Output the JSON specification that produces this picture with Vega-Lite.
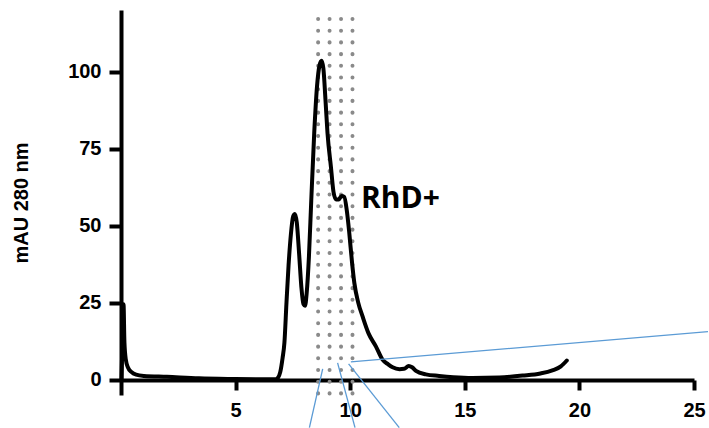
{
  "$schema": "https://vega.github.io/schema/vega-lite/v6.json",
  "width": 573,
  "height": 385,
  "autosize": "none",
  "padding": {"left": 121, "top": 10, "right": 15, "bottom": 33},
  "background": "white",
  "config": {"view": {"stroke": null}},
  "datasets": {
    "trace": [
      {"t": 0.02, "a": 0}, {"t": 0.07, "a": 14}, {"t": 0.11, "a": 24.5}, {"t": 0.15, "a": 12}, {"t": 0.21, "a": 6.5},
      {"t": 0.3, "a": 4}, {"t": 0.45, "a": 2.5}, {"t": 0.66, "a": 1.6}, {"t": 1.0, "a": 1.2}, {"t": 2.0, "a": 0.9},
      {"t": 3.4, "a": 0.4}, {"t": 5.0, "a": 0.2}, {"t": 6.75, "a": 0.1}, {"t": 6.85, "a": 0.6}, {"t": 6.95, "a": 2.5},
      {"t": 7.05, "a": 7}, {"t": 7.13, "a": 12}, {"t": 7.22, "a": 25}, {"t": 7.31, "a": 37}, {"t": 7.41, "a": 47},
      {"t": 7.51, "a": 53}, {"t": 7.59, "a": 53.8}, {"t": 7.67, "a": 51}, {"t": 7.77, "a": 41}, {"t": 7.87, "a": 30},
      {"t": 7.96, "a": 24.5}, {"t": 8.03, "a": 24}, {"t": 8.1, "a": 28}, {"t": 8.2, "a": 40}, {"t": 8.3, "a": 58},
      {"t": 8.43, "a": 80}, {"t": 8.55, "a": 95}, {"t": 8.66, "a": 102}, {"t": 8.75, "a": 103.5}, {"t": 8.83, "a": 101},
      {"t": 8.92, "a": 91}, {"t": 9.01, "a": 80}, {"t": 9.16, "a": 69}, {"t": 9.27, "a": 61}, {"t": 9.38, "a": 58.5},
      {"t": 9.5, "a": 58.5}, {"t": 9.62, "a": 59.6}, {"t": 9.74, "a": 59.3}, {"t": 9.85, "a": 55}, {"t": 9.96, "a": 47.6},
      {"t": 10.08, "a": 38}, {"t": 10.18, "a": 31.4}, {"t": 10.35, "a": 25}, {"t": 10.54, "a": 20.5}, {"t": 10.8, "a": 15},
      {"t": 11.12, "a": 10.8}, {"t": 11.41, "a": 6.5}, {"t": 11.65, "a": 5}, {"t": 11.85, "a": 4}, {"t": 12.15, "a": 3.4},
      {"t": 12.35, "a": 3.5}, {"t": 12.55, "a": 4.4}, {"t": 12.7, "a": 4.0}, {"t": 12.87, "a": 2.8}, {"t": 13.3, "a": 1.7},
      {"t": 13.88, "a": 1.2}, {"t": 14.5, "a": 0.8}, {"t": 15.33, "a": 0.55}, {"t": 16.5, "a": 0.7}, {"t": 17.52, "a": 1.3},
      {"t": 18.3, "a": 2}, {"t": 18.82, "a": 3}, {"t": 19.19, "a": 4.3}, {"t": 19.45, "a": 6.2}
    ],
    "fractions": [
      {"t": 8.6, "lo": -4.5, "hi": 119.5}, {"t": 9.1, "lo": -4.5, "hi": 119.5},
      {"t": 9.6, "lo": -4.5, "hi": 119.5}, {"t": 10.1, "lo": -4.5, "hi": 119.5}
    ],
    "connectors": [
      {"x1": 8.80, "y1": 3.47, "x2": 8.22, "y2": -15.57},
      {"x1": 9.45, "y1": 5.42, "x2": 10.21, "y2": -15.57},
      {"x1": 9.93, "y1": 5.09, "x2": 12.14, "y2": -15.57},
      {"x1": 10.03, "y1": 5.74, "x2": 25.61, "y2": 15.57}
    ],
    "labels": [{"t": 10.47, "a": 58.7, "text": "RhD+"}]
  },
  "layer": [
    {
      "data": {"name": "fractions"},
      "mark": {"type": "rule", "color": "#8a8a8a", "strokeWidth": 4, "strokeCap": "round", "strokeDash": [0.1, 11.6]},
      "encoding": {
        "x": {"field": "t", "type": "quantitative", "scale": {"domain": [0, 25], "nice": false, "zero": false},
          "axis": {
            "values": [5, 10, 15, 20, 25], "title": null, "grid": false,
            "offset": -15, "domainColor": "black", "domainWidth": 4, "tickColor": "black", "tickWidth": 4,
            "tickSize": 10, "labelPadding": 10, "labelFont": "Liberation Sans", "labelFontWeight": "bold",
            "labelFontSize": 20, "labelColor": "black", "labelFlush": false
          }},
        "y": {"field": "lo", "type": "quantitative", "scale": {"domain": [-5, 120], "nice": false, "zero": false},
          "axis": {
            "values": [0, 25, 50, 75, 100], "title": "mAU 280 nm", "grid": false,
            "domainColor": "black", "domainWidth": 4, "tickColor": "black", "tickWidth": 4, "tickSize": 12,
            "labelPadding": 8, "labelFont": "Liberation Sans", "labelFontWeight": "bold", "labelFontSize": 20,
            "labelColor": "black", "labelFlush": false,
            "titleFont": "Liberation Sans", "titleFontWeight": "bold", "titleFontSize": 20, "titleColor": "black",
            "titlePadding": 36
          }},
        "y2": {"field": "hi"}
      }
    },
    {
      "data": {"name": "trace"},
      "mark": {"type": "line", "color": "black", "strokeWidth": 4, "interpolate": "monotone", "strokeJoin": "round", "strokeCap": "round"},
      "encoding": {
        "x": {"field": "t", "type": "quantitative"},
        "y": {"field": "a", "type": "quantitative"}
      }
    },
    {
      "data": {"name": "connectors"},
      "mark": {"type": "rule", "color": "#5b9bd5", "strokeWidth": 1.3},
      "encoding": {
        "x": {"field": "x1", "type": "quantitative"},
        "y": {"field": "y1", "type": "quantitative"},
        "x2": {"field": "x2"},
        "y2": {"field": "y2"}
      }
    },
    {
      "data": {"name": "labels"},
      "mark": {"type": "text", "align": "left", "baseline": "middle", "font": "Open Sans", "fontWeight": "bold", "fontSize": 30, "color": "black"},
      "encoding": {
        "x": {"field": "t", "type": "quantitative"},
        "y": {"field": "a", "type": "quantitative"},
        "text": {"field": "text"}
      }
    }
  ]
}
